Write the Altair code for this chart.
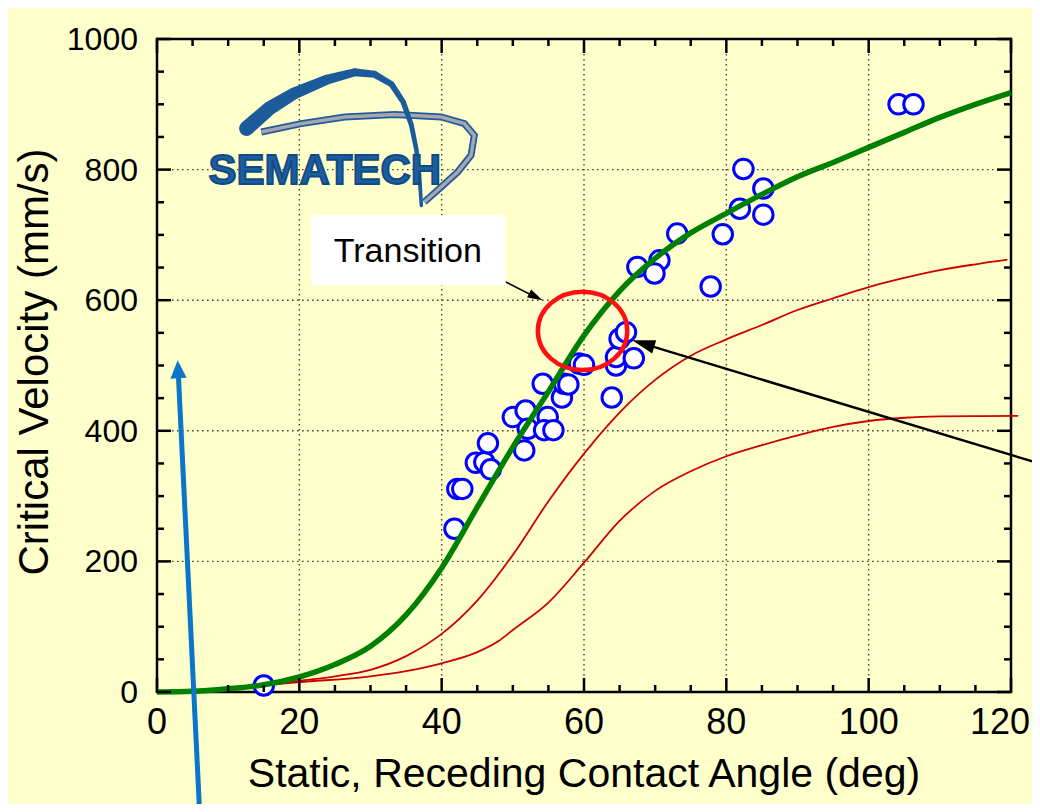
import altair as alt
import pandas as pd

FONT = "Liberation Sans"
W, H = 854, 653

# ---------------- data ----------------
pt_angle = [15.0, 41.8, 42.2, 42.9, 44.8, 46.0, 46.9, 46.5, 50.0, 51.8, 52.1, 51.6, 54.2,
            54.9, 54.4, 55.7, 56.9, 57.2, 57.8, 59.3, 60.0, 63.9, 64.5, 64.5, 67.0, 65.0,
            65.9, 67.5, 70.6, 69.9, 73.1, 77.8, 79.5, 81.9, 82.4, 85.2, 85.2, 104.2, 106.3]
pt_velocity = [10, 250, 311, 311, 351, 352, 341, 381, 421, 431, 403, 370, 472,
               421, 401, 401, 451, 472, 471, 503, 501, 451, 500, 513, 511, 541,
               551, 651, 661, 641, 702, 621, 701, 740, 801, 771, 731, 900, 900]

fit_angle = [0, 5, 10, 15, 20, 25, 30, 35, 40, 45, 50, 55, 60, 65, 70, 75, 80, 85, 90,
             95, 100, 105, 110, 115, 120]
fit_velocity = [0, 1, 5, 11, 23, 42, 70, 118, 190, 283, 375, 460, 546, 614, 664, 703, 733,
                762, 789, 811, 834, 857, 880, 900, 918]

upper_angle = [0, 5, 10, 15, 20, 25, 30, 35, 40, 45, 50, 55, 60, 65, 70, 75, 80, 85, 90,
               95, 100, 105, 110, 115, 119.5]
upper_velocity = [0, 2, 5, 10, 17, 24, 34, 55, 89, 140, 210, 292, 365, 428, 478, 515, 540,
                  562, 585, 603, 620, 634, 646, 655, 662]

lower_angle = [0, 10, 20, 30, 35, 40, 45, 48, 50, 55, 60, 65, 70, 75, 80, 85, 90, 95, 100,
               105, 110, 115, 121]
lower_velocity = [0, 5, 15, 24, 32, 44, 61, 78, 95, 137, 198, 262, 308, 338, 361, 378, 393,
                  406, 415, 420, 422, 422.5, 423]

x_major = [0, 20, 40, 60, 80, 100, 120]
x_labels = ["0", "20", "40", "60", "80", "100", "120"]
x_minor = [5, 10, 15, 25, 30, 35, 45, 50, 55, 65, 70, 75, 85, 90, 95, 105, 110, 115]
y_major = [0, 200, 400, 600, 800, 1000]
y_labels = ["0", "200", "400", "600", "800", "1000"]
y_minor = [50, 100, 150, 250, 300, 350, 450, 500, 550, 650, 700, 750, 850, 900, 950]
x_grid = [20, 40, 60, 80, 100]
y_grid = [200, 400, 600, 800]

x_title = "Static, Receding Contact Angle (deg)"
y_title = "Critical Velocity (mm/s)"

# ---------------- annotation anchors (data coordinates) ----------------
logo_arc_x = [12.59, 15.82, 19.33, 23.96, 27.75, 30.55, 32.94, 34.62, 35.75, 36.45, 36.87, 37.15]
logo_arc_y = [863, 894, 917, 938, 949, 946, 931, 903, 868, 830, 791, 745]
logo_arc_w = [15, 14, 12, 10, 8, 7, 6, 5.5, 5, 4.5, 4, 3.5]
logo_ring_x = [14.65, 20.27, 26.38, 33.40, 39.92, 43.19, 44.59, 44.13, 42.25, 39.92, 37.57]
logo_ring_y = [857.6, 870.4, 880.6, 884.2, 880.6, 870.4, 852.5, 821.9, 796.3, 773.3, 750.4]

xs = alt.Scale(domain=[0, 120], nice=False, zero=False)
ys = alt.Scale(domain=[0, 1000], nice=False, zero=False)


def X(f):
    return alt.X(f"{f}:Q", scale=xs, axis=None)


def Y(f):
    return alt.Y(f"{f}:Q", scale=ys, axis=None)


# gridlines
grid_style = dict(color="#444444", strokeWidth=1.4, strokeDash=[1.6, 3.4])
xgrid = alt.Chart(pd.DataFrame({"a": x_grid})).mark_rule(**grid_style).encode(
    x=X("a"), y=alt.value(0), y2=alt.value(H))
ygrid = alt.Chart(pd.DataFrame({"v": y_grid})).mark_rule(**grid_style).encode(
    y=Y("v"), x=alt.value(0), x2=alt.value(W))

# tick labels and titles
xlab_style = dict(font=FONT, fontSize=36, color="black", baseline="top")
xlab = alt.Chart(pd.DataFrame({"a": x_major[:-1], "t": x_labels[:-1]})).mark_text(
    align="center", **xlab_style).encode(x=X("a"), y=alt.value(H + 14), text="t:N")
xlab_last = alt.Chart(pd.DataFrame({"a": x_major[-1:], "t": x_labels[-1:]})).mark_text(
    align="right", dx=19, **xlab_style).encode(x=X("a"), y=alt.value(H + 14), text="t:N")
ylab = alt.Chart(pd.DataFrame({"v": y_major, "t": y_labels})).mark_text(
    font=FONT, fontSize=32, color="black", align="right", baseline="middle", dy=1).encode(
    y=Y("v"), x=alt.value(-19), text="t:N")
xtit = alt.Chart(pd.DataFrame({"t": [x_title]})).mark_text(
    font=FONT, fontSize=41, color="black", align="center", baseline="alphabetic").encode(
    x=alt.value(W / 2), y=alt.value(H + 95), text="t:N")
ytit = alt.Chart(pd.DataFrame({"t": [y_title]})).mark_text(
    font=FONT, fontSize=42, color="black", align="center", baseline="alphabetic", angle=270).encode(
    x=alt.value(-109), y=alt.value(323), text="t:N")

points = alt.Chart(pd.DataFrame({"a": pt_angle, "v": pt_velocity})).mark_point(
    shape="circle", size=380, filled=True, fill="white", stroke="#0000ff", strokeWidth=3, opacity=1
).encode(x=X("a"), y=Y("v"))


def curve(xv, yv, color, width):
    return alt.Chart(pd.DataFrame({"a": xv, "v": yv})).mark_line(
        color=color, strokeWidth=width, interpolate="monotone"
    ).encode(x=X("a"), y=Y("v"))


upper = curve(upper_angle, upper_velocity, "#cc0000", 1.8)
lower = curve(lower_angle, lower_velocity, "#cc0000", 1.8)
fit = curve(fit_angle, fit_velocity, "#008000", 5.5)

# logo
ring_df = pd.DataFrame({"a": logo_ring_x, "v": logo_ring_y, "i": list(range(len(logo_ring_x)))})
ring_edge = alt.Chart(ring_df).mark_line(color="#1f5c9c", strokeWidth=7).encode(
    x=X("a"), y=Y("v"), order="i:Q")
ring_core = alt.Chart(ring_df).mark_line(color="#a6a6b0", strokeWidth=3.5).encode(
    x=X("a"), y=Y("v"), order="i:Q")
arc = alt.Chart(pd.DataFrame({"a": logo_arc_x, "v": logo_arc_y, "w": logo_arc_w,
                              "i": list(range(len(logo_arc_x)))})).mark_trail(
    color="#1b5a9b").encode(x=X("a"), y=Y("v"), order="i:Q",
                           size=alt.Size("w:Q", scale=None, legend=None))
logo_txt = alt.Chart(pd.DataFrame({"a": [23.58], "v": [778.6], "t": ["SEMATECH"]})).mark_text(
    font=FONT, fontSize=42, fontWeight="bold", color="#1d5d9e", stroke="#0f4a85", strokeWidth=1.8,
    align="center", baseline="alphabetic").encode(x=X("a"), y=Y("v"), text="t:N")

# Transition label
box = alt.Chart(pd.DataFrame({"a": [21.67], "a2": [48.94], "v": [622.8], "v2": [730.0]})).mark_rect(
    fill="white").encode(x=X("a"), x2="a2:Q", y=Y("v"), y2="v2:Q")
box_txt = alt.Chart(pd.DataFrame({"a": [35.24], "v": [658.5], "t": ["Transition"]})).mark_text(
    font=FONT, fontSize=34, color="black", align="center", baseline="alphabetic").encode(
    x=X("a"), y=Y("v"), text="t:N")


# arrows
def shaft(x1, y1, x2, y2, color, width):
    return alt.Chart(pd.DataFrame({"a": [x1], "a2": [x2], "v": [y1], "v2": [y2]})).mark_rule(
        color=color, strokeWidth=width).encode(x=X("a"), x2="a2:Q", y=Y("v"), y2="v2:Q")


def head(x, y, angle, size, color, half=0.6):
    path = f"M0,0L{half},2L-{half},2Z"
    return alt.Chart(pd.DataFrame({"a": [x], "v": [y]})).mark_point(
        shape=path, angle=angle, size=size, filled=True, color=color, opacity=1, strokeWidth=0
    ).encode(x=X("a"), y=Y("v"))


arr1 = shaft(49.03, 627.9, 52.6, 608.0, "black", 1.5)
arr1h = head(54.17, 599.9, 116.6, 225, "black")
arr2 = shaft(123.9, 350.2, 69.44, 529.7, "black", 2.5)
arr2h = head(66.77, 538.6, 286.8, 529, "black")
arr3 = shaft(5.99, -184.2, 3.0, 486.5, "#0b75c9", 5)
arr3h = head(2.905, 508.0, 357.2, 324, "#0b75c9", half=0.9)

ellipse = alt.Chart(pd.DataFrame({"a": [59.8], "v": [553]})).mark_point(
    shape="M-1,0A1,0.877,0,1,1,1,0A1,0.877,0,1,1,-1,0Z", size=7992, filled=False,
    stroke="#ff1010", strokeWidth=4.5, opacity=1).encode(x=X("a"), y=Y("v"))


# inward ticks
def xticks(vals, y1, y2):
    return alt.Chart(pd.DataFrame({"a": vals})).mark_rule(color="black", strokeWidth=2.5).encode(
        x=X("a"), y=alt.value(y1), y2=alt.value(y2))


def yticks(vals, x1, x2):
    return alt.Chart(pd.DataFrame({"v": vals})).mark_rule(color="black", strokeWidth=2.5).encode(
        y=Y("v"), x=alt.value(x1), x2=alt.value(x2))


ticks = [
    xticks(x_major, H, H - 14), xticks(x_minor, H, H - 7),
    xticks(x_major, 0, 14), xticks(x_minor, 0, 7),
    yticks(y_major, 0, 14), yticks(y_minor, 0, 7),
    yticks(y_major, W, W - 14), yticks(y_minor, W, W - 7),
]

chart = alt.layer(
    xgrid, ygrid,
    points, upper, lower, fit,
    ring_edge, ring_core, arc, logo_txt,
    box, box_txt,
    arr1, arr1h, arr2, arr2h,
    ellipse,
    *ticks,
    xlab, xlab_last, ylab, xtit, ytit,
    arr3, arr3h,
).properties(
    width=W, height=H, background="#ffffcc",
    padding={"left": 149, "top": 31, "right": 21, "bottom": 112},
    autosize=alt.AutoSizeParams(type="none"),
).configure_view(stroke="black", strokeWidth=2.5)

chart.save("out.html", embed_options={"renderer": "svg", "actions": False})
